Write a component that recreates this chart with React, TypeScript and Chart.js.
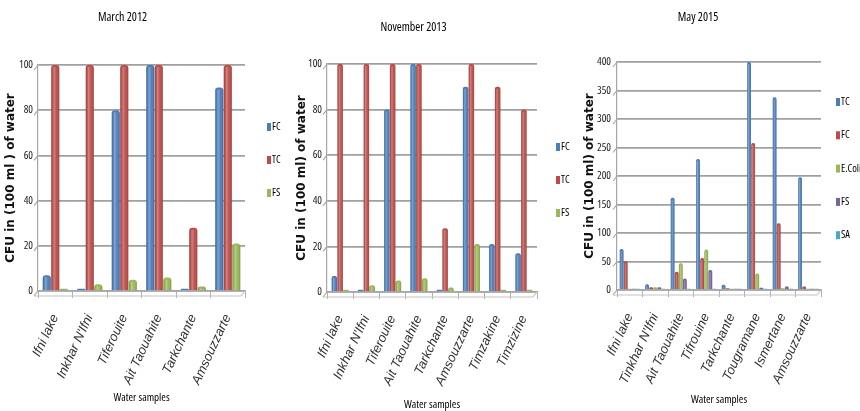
import React, { useEffect, useRef } from 'react';
import { Chart, registerables } from 'chart.js';
Chart.register(...registerables);

// ---------- data ----------
const cats2012 = ["Ifni lake", "Inkhar N'Ifni", "Tiferouite", "Ait Taouahite", "Tarkchante", "Amsouzzarte"];
const fc2012 = [7, 1, 80, 100, 1, 90];
const tc2012 = [100, 100, 100, 100, 28, 100];
const fs2012 = [1, 3, 5, 6, 2, 21];

const cats2013 = ["Ifni lake", "Inkhar N'Ifni", "Tiferouite", "Ait Taouahite", "Tarkchante", "Amsouzzarte", "Timzakine", "Timzizine"];
const fc2013 = [7, 1, 80, 100, 1, 90, 21, 17];
const tc2013 = [100, 100, 100, 100, 28, 100, 90, 80];
const fs2013 = [1, 3, 5, 6, 2, 21, 1, 1];

const cats2015 = ["Ifni lake", "Tinkhar N'Ifni", "Ait Taouahite", "Tifrouine", "Tarkchante", "Tougramane", "Ismertane", "Amsouzzarte"];
const tc2015 = [72, 10, 162, 230, 9, 400, 338, 198];
const fc2015 = [51, 5, 32, 56, 3, 258, 117, 6];
const ecoli2015 = [2, 5, 47, 71, 2, 29, 3, 2];
const fs2015 = [2, 5, 20, 35, 2, 4, 6, 2];
const sa2015 = [2, 2, 2, 2, 2, 2, 2, 2];

const BLUE = '#4a7ebb';
const RED = '#be4b48';
const GREEN = '#98b954';
const PURPLE = '#7d60a0';
const CYAN = '#46aac5';

const NARROW = "'Open Sans', 'Liberation Sans', sans-serif";
const LABELS = "'Liberation Sans', sans-serif";
const WIDE = "'DejaVu Sans', Verdana, sans-serif";

type DS = { label: string; data: number[]; color: string };
type Cfg = {
  left: number; width: number;
  title: string; titleTop: number; titleBottom: number;
  yAxisWidth: number; xAxisHeight: number; rightPad: number;
  yMax: number; yStep: number; yTickPad: number;
  yTitle: string; yTitlePad: number; xTitlePad: number;
  labels: string[]; datasets: DS[];
  legendX: number; legendY: number; legendGap: number;
  catPct: number; barPct: number; radius: number;
};

const charts: Cfg[] = [
  {
    left: 0, width: 290, title: 'March 2012', titleTop: 10, titleBottom: 40.6,
    yAxisWidth: 38, xAxisHeight: 120, rightPad: 45,
    yMax: 100, yStep: 20, yTickPad: 5,
    yTitle: 'CFU in (100 ml ) of water', yTitlePad: 4, xTitlePad: 7,
    labels: cats2012,
    datasets: [
      { label: 'FC', data: fc2012, color: BLUE },
      { label: 'TC', data: tc2012, color: RED },
      { label: 'FS', data: fs2012, color: GREEN },
    ],
    legendX: 267, legendY: 127, legendGap: 33,
    catPct: 0.74, barPct: 0.95, radius: 3,
  },
  {
    left: 290, width: 285, title: 'November 2013', titleTop: 20, titleBottom: 29.6,
    yAxisWidth: 37, xAxisHeight: 119, rightPad: 38,
    yMax: 100, yStep: 20, yTickPad: 5,
    yTitle: 'CFU in (100 ml) of water', yTitlePad: 5, xTitlePad: 0,
    labels: cats2013,
    datasets: [
      { label: 'FC', data: fc2013, color: BLUE },
      { label: 'TC', data: tc2013, color: RED },
      { label: 'FS', data: fs2013, color: GREEN },
    ],
    legendX: 556, legendY: 147, legendGap: 33,
    catPct: 0.66, barPct: 0.95, radius: 2,
  },
  {
    left: 575, width: 285, title: 'May 2015', titleTop: 10, titleBottom: 37.6,
    yAxisWidth: 42, xAxisHeight: 121, rightPad: 39,
    yMax: 400, yStep: 50, yTickPad: 6,
    yTitle: 'CFU in (100 ml) of water', yTitlePad: 8, xTitlePad: 5,
    labels: cats2015,
    datasets: [
      { label: 'TC', data: tc2015, color: BLUE },
      { label: 'FC', data: fc2015, color: RED },
      { label: 'E.Coli', data: ecoli2015, color: GREEN },
      { label: 'FS', data: fs2015, color: PURPLE },
      { label: 'SA', data: sa2015, color: CYAN },
    ],
    legendX: 836, legendY: 102, legendGap: 33.3,
    catPct: 0.8, barPct: 0.92, radius: 1.5,
  },
];

// Fake 3D shading over the library's bar elements
const shadePlugin = {
  id: 'shade',
  afterDatasetsDraw(chart: any) {
    const ctx = chart.ctx;
    chart.data.datasets.forEach((_ds: any, i: number) => {
      const meta = chart.getDatasetMeta(i);
      meta.data.forEach((bar: any) => {
        const { x, y, base, width } = bar.getProps(['x', 'y', 'base', 'width'], true);
        const l = x - width / 2;
        const g = ctx.createLinearGradient(l, 0, l + width, 0);
        g.addColorStop(0, 'rgba(0,0,0,0.10)');
        g.addColorStop(0.35, 'rgba(255,255,255,0.30)');
        g.addColorStop(0.65, 'rgba(255,255,255,0.04)');
        g.addColorStop(1, 'rgba(0,0,0,0.22)');
        ctx.save();
        ctx.fillStyle = g;
        const top = Math.min(y + 2, base);
        ctx.fillRect(l, top, width, base - top);
        ctx.restore();
      });
    });
  },
};

// Back-wall diagonals at the left of each gridline and a front floor edge
const wallPlugin = {
  id: 'wall',
  beforeDatasetsDraw(chart: any) {
    const ctx = chart.ctx;
    const ys = chart.scales.y;
    const { left, right } = chart.chartArea;
    ctx.save();
    ctx.strokeStyle = '#a6a6a6';
    ctx.lineWidth = 1.2;
    ys.ticks.forEach((t: any) => {
      const py = ys.getPixelForValue(t.value);
      ctx.beginPath();
      ctx.moveTo(left - 4, py + 5);
      ctx.lineTo(left, py);
      ctx.stroke();
    });
    const y0 = ys.getPixelForValue(0);
    ctx.strokeStyle = '#c4c4c4';
    ctx.beginPath();
    ctx.moveTo(left - 4, y0 + 5);
    ctx.lineTo(right - 4, y0 + 5);
    ctx.lineTo(right, y0);
    ctx.stroke();
    ctx.restore();
  },
};

// Legend drawn from the datasets
const legendPlugin = {
  id: 'sideLegend',
  afterDraw(chart: any, _args: any, opts: any) {
    const ctx = chart.ctx;
    ctx.save();
    ctx.font = `condensed 10.5px ${NARROW}`;
    ctx.textBaseline = 'middle';
    ctx.textAlign = 'left';
    chart.data.datasets.forEach((ds: any, i: number) => {
      const y = opts.y + i * opts.gap;
      ctx.fillStyle = ds.backgroundColor;
      ctx.fillRect(opts.x, y - 4, 4, 8);
      ctx.fillStyle = '#000';
      ctx.fillText(ds.label, opts.x + 5, y);
    });
    ctx.restore();
  },
};

function BarChart({ cfg }: { cfg: Cfg }) {
  const ref = useRef<HTMLCanvasElement | null>(null);
  useEffect(() => {
    if (!ref.current) return;
    const chart = new Chart(ref.current, {
      type: 'bar',
      data: {
        labels: cfg.labels,
        datasets: cfg.datasets.map((d) => ({
          label: d.label,
          data: d.data,
          backgroundColor: d.color,
          borderColor: d.color,
          borderWidth: 0,
          borderRadius: cfg.radius,
          categoryPercentage: cfg.catPct,
          barPercentage: cfg.barPct,
        })),
      },
      options: {
        animation: false,
        responsive: false,
        maintainAspectRatio: false,
        layout: { padding: { left: 0, top: 0, bottom: 0, right: cfg.rightPad } },
        plugins: {
          legend: { display: false },
          tooltip: { enabled: false },
          title: {
            display: true,
            text: cfg.title,
            color: '#000',
            font: { family: NARROW, size: 12, weight: 'condensed' },
            padding: { top: cfg.titleTop, bottom: cfg.titleBottom },
          },
          sideLegend: { x: cfg.legendX - cfg.left, y: cfg.legendY, gap: cfg.legendGap },
        } as any,
        scales: {
          x: {
            offset: true,
            afterFit: (s: any) => { s.height = cfg.xAxisHeight; },
            grid: {
              offset: true,
              drawOnChartArea: false,
              drawTicks: true,
              tickLength: 7,
              color: '#b0b0b0',
              lineWidth: 1,
            },
            border: { display: true, color: '#a6a6a6', width: 1.5 },
            ticks: {
              autoSkip: false,
              maxRotation: 65,
              minRotation: 65,
              padding: 14,
              color: '#333',
              font: { family: LABELS, size: 13, style: 'italic' },
            },
            title: {
              display: true,
              text: 'Water samples',
              color: '#000',
              font: { family: NARROW, size: 11, weight: 'condensed' },
              padding: { top: 0, bottom: cfg.xTitlePad },
            },
          },
          y: {
            min: 0,
            max: cfg.yMax,
            afterFit: (s: any) => { s.width = cfg.yAxisWidth; },
            grid: { color: '#a0a0a0', lineWidth: 1.8, drawTicks: false },
            border: { display: true, color: '#a6a6a6', width: 1.2 },
            ticks: {
              stepSize: cfg.yStep,
              padding: cfg.yTickPad,
              color: '#222',
              font: { family: NARROW, size: 11, weight: 'condensed' },
            },
            title: {
              display: true,
              text: cfg.yTitle,
              color: '#111',
              font: { family: WIDE, size: 12, weight: 'bold' },
              padding: { top: cfg.yTitlePad, bottom: 0 },
            },
          },
        },
      } as any,
      plugins: [wallPlugin, shadePlugin, legendPlugin],
    });
    return () => chart.destroy();
  }, [cfg]);
  return (
    <div style={{ position: 'absolute', left: cfg.left, top: 0, width: cfg.width, height: 411 }}>
      <canvas ref={ref} width={cfg.width} height={411} style={{ width: cfg.width, height: 411, display: 'block' }} />
    </div>
  );
}

export default function App() {
  return (
    <div style={{ position: 'absolute', left: 0, top: 0, width: 860, height: 411, background: '#fff', overflow: 'hidden' }}>
      {charts.map((c) => (
        <BarChart key={c.title} cfg={c} />
      ))}
    </div>
  );
}
